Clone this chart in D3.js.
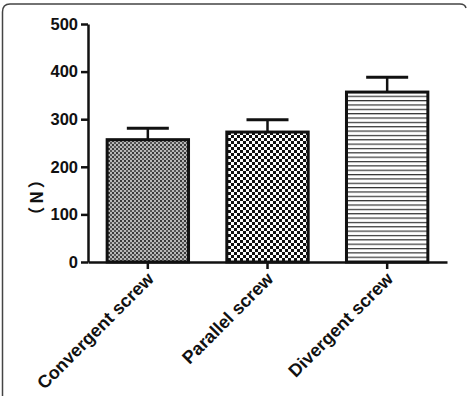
<!DOCTYPE html>
<html><head><meta charset="utf-8">
<script src="https://cdn.jsdelivr.net/npm/d3@7"></script>
<style>body{margin:0;background:#fff}svg{display:block}</style>
</head><body>
<script>
const categories = ["Convergent screw", "Parallel screw", "Divergent screw"];
const values = [257, 273, 357];
const errors = [24, 26, 31];
const yTicks = [0, 100, 200, 300, 400, 500];
const yLabel = "（N）";

const W = 467, H = 396;
const svg = d3.select("body").append("svg").attr("width", W).attr("height", H);
const defs = svg.append("defs");

// patterns
const p1 = defs.append("pattern").attr("id","p1").attr("patternUnits","userSpaceOnUse").attr("width",4).attr("height",4);
p1.append("rect").attr("width",4).attr("height",4).attr("fill","#b8b8b8");
p1.append("rect").attr("width",2).attr("height",2).attr("fill","#3a3a3a");
p1.append("rect").attr("x",2).attr("y",2).attr("width",2).attr("height",2).attr("fill","#555");
const p2 = defs.append("pattern").attr("id","p2").attr("patternUnits","userSpaceOnUse").attr("width",6).attr("height",6);
p2.append("rect").attr("width",6).attr("height",6).attr("fill","#fff");
p2.append("rect").attr("width",3).attr("height",3).attr("fill","#111");
p2.append("rect").attr("x",3).attr("y",3).attr("width",3).attr("height",3).attr("fill","#111");
const p3 = defs.append("pattern").attr("id","p3").attr("patternUnits","userSpaceOnUse").attr("width",8).attr("height",4.35);
p3.append("rect").attr("width",8).attr("height",4.35).attr("fill","#fff");
p3.append("rect").attr("y",0).attr("width",8).attr("height",1.2).attr("fill","#333");
const fills = ["url(#p1)","url(#p2)","url(#p3)"];

// frame (top + left with rounded corners)
svg.append("path")
  .attr("d","M2.5,396 L2.5,12 Q2.5,4 10,4 L460,4 Q465,4 466,8")
  .attr("fill","none").attr("stroke","#444").attr("stroke-width",1.5);

const x0 = 88, x1 = 447, yTop = 24, yBot = 262;
const y = d3.scaleLinear().domain([0,500]).range([yBot,yTop]);
const x = d3.scaleBand().domain(categories).range([x0, x1]).paddingInner(0.32).paddingOuter(0.16);

const font = "Arial, 'Liberation Sans', sans-serif";

// bars
const g = svg.append("g");
categories.forEach((c,i)=>{
  const bx = x(c), bw = x.bandwidth(), cx = bx + bw/2;
  g.append("line").attr("x1",cx).attr("x2",cx).attr("y1",y(values[i])).attr("y2",y(values[i]+errors[i]))
    .attr("stroke","#111").attr("stroke-width",2.5);
  g.append("line").attr("x1",cx-21).attr("x2",cx+21).attr("y1",y(values[i]+errors[i])).attr("y2",y(values[i]+errors[i]))
    .attr("stroke","#111").attr("stroke-width",3);
  g.append("rect").attr("x",bx).attr("y",y(values[i])).attr("width",bw).attr("height",y(0)-y(values[i]))
    .attr("fill",fills[i]).attr("stroke","#111").attr("stroke-width",3);
});

// y axis
const ya = svg.append("g").attr("transform",`translate(${x0},0)`)
  .call(d3.axisLeft(y).tickValues(yTicks).tickSize(7).tickPadding(3).tickSizeOuter(0));
ya.select(".domain").attr("stroke","#111").attr("stroke-width",2.5);
ya.selectAll(".tick line").attr("stroke","#111").attr("stroke-width",2.5);
ya.selectAll(".tick text").attr("font-family",font).attr("font-weight","bold").attr("font-size",16.5).attr("fill","#111");

// x axis
const xa = svg.append("g").attr("transform",`translate(0,${yBot})`)
  .call(d3.axisBottom(x).tickSize(7).tickSizeOuter(0).tickFormat(""));
xa.select(".domain").attr("stroke","#111").attr("stroke-width",2.5);
xa.selectAll(".tick line").attr("stroke","#111").attr("stroke-width",2.5);
xa.selectAll(".tick").append("text")
  .attr("transform","translate(7,18) rotate(-45)")
  .attr("text-anchor","end").attr("font-family",font).attr("font-weight","bold")
  .attr("font-size",18).attr("fill","#111").text(d=>d);

// y label
svg.append("text").attr("transform","translate(43,196) rotate(-90)")
  .attr("text-anchor","middle").attr("font-family","'Noto Sans CJK SC', sans-serif").attr("font-weight","bold")
  .attr("font-size",17).attr("letter-spacing",3).attr("fill","#111").text(yLabel);
</script>
</body></html>
